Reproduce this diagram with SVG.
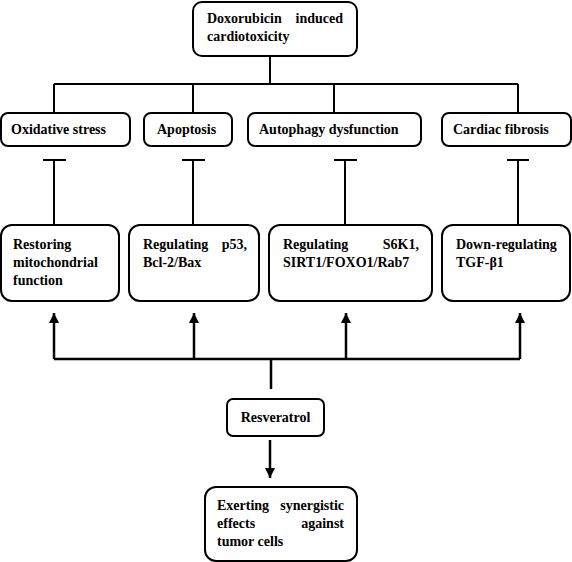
<svg xmlns="http://www.w3.org/2000/svg" width="572" height="562" viewBox="0 0 572 562">
<defs>
<style>
.box{fill:#fff;stroke:#000;stroke-width:2}
.ln{fill:none;stroke:#000;stroke-width:2}
.ar{fill:none;stroke:#000;stroke-width:2.5}
.t{font-family:'Liberation Serif','Times New Roman',Times,serif;font-weight:700;font-size:14px;fill:#000}
</style>
<marker id="ah" viewBox="0 0 10 10" refX="10" refY="5" markerWidth="4.4" markerHeight="4" orient="auto" markerUnits="strokeWidth">
<path d="M0,0 L10,5 L0,10 Z" fill="#000"/>
</marker>
</defs>
<rect width="572" height="562" fill="#fff"/>
<g id="connectors">
<path class="ln" d="M270,56 V84 M54,84 H518 M54,84 V113 M193,84 V113 M334,84 V113 M518,84 V113"/>
<path class="ln" d="M54,225 V160 M43,160 H66 M193,225 V160 M182,160 H205 M345,225 V160 M334,160 H357 M518,225 V160 M507,160 H529"/>
<path class="ar" d="M54,359 H520 M271,359 V389"/>
<path class="ar" d="M54,359 V313" marker-end="url(#ah)"/>
<path class="ar" d="M194,359 V313" marker-end="url(#ah)"/>
<path class="ar" d="M346,359 V313" marker-end="url(#ah)"/>
<path class="ar" d="M520,359 V313" marker-end="url(#ah)"/>
<path class="ar" d="M270,440 V478" marker-end="url(#ah)"/>
</g>
<g class="t" font-family="Liberation Serif, serif" font-weight="bold" font-size="14">
<g id="n-top"><rect class="box" x="193" y="2" width="164" height="54" rx="9"/>
<text x="207" y="23">Doxorubicin</text><text x="343" y="23" text-anchor="end">induced</text>
<text x="207" y="41">cardiotoxicity</text></g>
<g id="n-ox"><rect class="box" x="1" y="113" width="129" height="33" rx="7"/><text x="11" y="134">Oxidative stress</text></g>
<g id="n-apo"><rect class="box" x="144" y="113" width="88" height="33" rx="7"/><text x="157" y="134">Apoptosis</text></g>
<g id="n-auto"><rect class="box" x="248" y="113" width="173" height="33" rx="7"/><text x="259" y="134">Autophagy dysfunction</text></g>
<g id="n-fib"><rect class="box" x="442" y="113" width="129" height="33" rx="7"/><text x="453" y="134">Cardiac fibrosis</text></g>
<g id="n-rest"><rect class="box" x="1" y="225" width="118" height="76" rx="11"/>
<text x="13" y="249">Restoring</text><text x="13" y="267">mitochondrial</text><text x="13" y="285">function</text></g>
<g id="n-p53"><rect class="box" x="129" y="225" width="130" height="76" rx="11"/>
<text x="143" y="249">Regulating</text><text x="247" y="249" text-anchor="end">p53,</text><text x="143" y="267">Bcl-2/Bax</text></g>
<g id="n-s6k"><rect class="box" x="269" y="225" width="163" height="76" rx="11"/>
<text x="283" y="249">Regulating</text><text x="419" y="249" text-anchor="end">S6K1,</text><text x="283" y="267">SIRT1/FOXO1/Rab7</text></g>
<g id="n-tgf"><rect class="box" x="442" y="225" width="128" height="76" rx="11"/>
<text x="456" y="249">Down-regulating</text><text x="456" y="267">TGF-β1</text></g>
<g id="n-res"><rect class="box" x="227" y="399" width="97" height="37" rx="6"/><text x="275.5" y="422" text-anchor="middle">Resveratrol</text></g>
<g id="n-syn"><rect class="box" x="205" y="487" width="152" height="74" rx="11"/>
<text x="217" y="510">Exerting</text><text x="344" y="510" text-anchor="end">synergistic</text>
<text x="217" y="528">effects</text><text x="344" y="528" text-anchor="end">against</text>
<text x="217" y="546">tumor cells</text></g>
</g>
</svg>
